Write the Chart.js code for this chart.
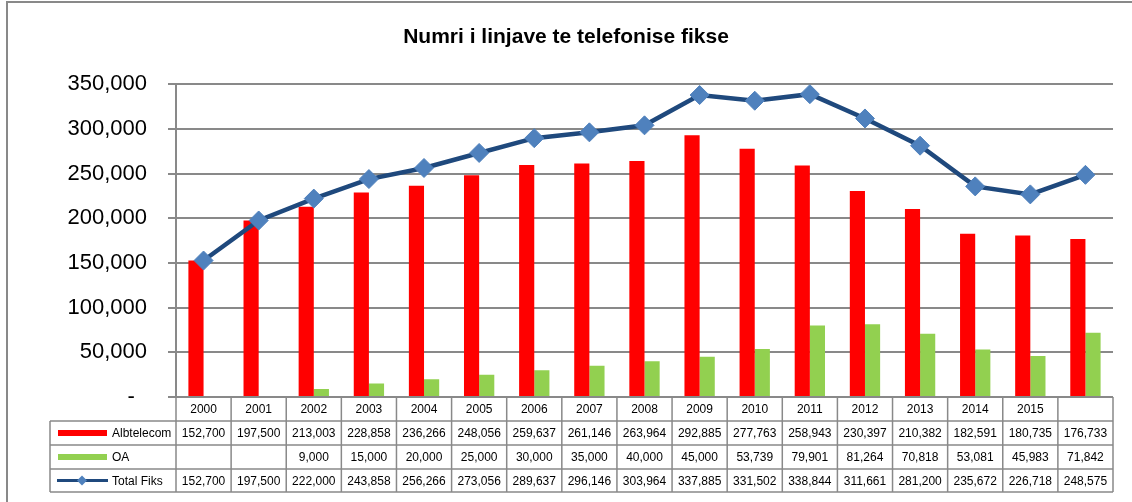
<!DOCTYPE html>
<html>
<head>
<meta charset="utf-8">
<script src="https://cdn.jsdelivr.net/npm/chart.js@4"></script>
<style>
  html, body { margin: 0; padding: 0; background: #fff; }
  #wrap { width: 1132px; height: 502px; position: relative; }
</style>
</head>
<body>
<div id="wrap"><canvas id="myChart"></canvas></div>
<script>
// - Anet

const vitet = ['2000', '2001', '2002', '2003', '2004', '2005', '2006', '2007',
  '2008', '2009', '2010', '2011', '2012', '2013', '2014', '2015', '']

const albtelecom = [152700, 197500, 213003, 228858, 236266, 248056, 259637, 261146,
  263964, 292885, 277763, 258943, 230397, 210382, 182591, 180735, 176733]

const oa = [null, null, 9000, 15000, 20000, 25000, 30000, 35000,
  40000, 45000, 53739, 79901, 81264, 70818, 53081, 45983, 71842]

const totalFiks = [152700, 197500, 222000, 243858, 256266, 273056, 289637, 296146,
  303964, 337885, 331502, 338844, 311661, 281200, 235672, 226718, 248575]

const yTicks = [0, 50000, 100000, 150000, 200000, 250000, 300000, 350000]

const fmt = v => (v === null || v === undefined) ? '' : v.toLocaleString('en-US')

const GRI = '#898989'
const FONT = "'Liberation Sans', Arial, sans-serif"

// korniza e jashtme
const korniza = {
  id: 'korniza',
  beforeDraw(chart) {
    const ctx = chart.ctx
    ctx.save()
    ctx.fillStyle = '#fff'
    ctx.fillRect(0, 0, chart.width, chart.height)
    ctx.strokeStyle = GRI
    ctx.lineWidth = 2
    ctx.beginPath()
    ctx.moveTo(7, chart.height)
    ctx.lineTo(7, 2)
    ctx.lineTo(chart.width, 2)
    ctx.stroke()
    ctx.restore()
  }
}

// tabela e te dhenave poshte grafikut
const tabela = {
  id: 'tabela',
  afterDraw(chart) {
    const ctx = chart.ctx
    const area = chart.chartArea
    const n = vitet.length
    const w = (area.right - area.left) / n
    const top = area.bottom
    const rows = [top, top + 24, top + 48, top + 72, top + 95]
    const legX = 50

    ctx.save()
    ctx.strokeStyle = GRI
    ctx.lineWidth = 1.5
    ctx.beginPath()
    ctx.moveTo(area.left, rows[0]); ctx.lineTo(area.right, rows[0])
    for (let r = 1; r < rows.length; r++) {
      ctx.moveTo(legX, rows[r]); ctx.lineTo(area.right, rows[r])
    }
    for (let i = 0; i <= n; i++) {
      const x = area.left + i * w
      ctx.moveTo(x, rows[0]); ctx.lineTo(x, rows[4])
    }
    ctx.moveTo(legX, rows[1]); ctx.lineTo(legX, rows[4])
    ctx.stroke()

    ctx.fillStyle = '#000'
    ctx.font = '12px ' + FONT
    ctx.textAlign = 'center'
    ctx.textBaseline = 'middle'
    const series = [vitet, albtelecom, oa, totalFiks]
    series.forEach((arr, r) => {
      const cy = (rows[r] + rows[r + 1]) / 2 + 1
      arr.forEach((v, i) => {
        const txt = r === 0 ? v : fmt(v)
        ctx.fillText(txt, area.left + i * w + w / 2, cy)
      })
    })

    // legjenda
    const names = chart.data.datasets.map(d => d.label)
    ctx.textAlign = 'left'
    for (let r = 1; r <= 3; r++) {
      const cy = (rows[r] + rows[r + 1]) / 2
      const ds = chart.data.datasets[r - 1]
      if (ds.type === 'line') {
        ctx.strokeStyle = ds.borderColor
        ctx.lineWidth = 3
        ctx.beginPath(); ctx.moveTo(57, cy); ctx.lineTo(108, cy); ctx.stroke()
        ctx.fillStyle = ds.pointBackgroundColor
        ctx.beginPath()
        ctx.moveTo(82, cy - 5); ctx.lineTo(87, cy); ctx.lineTo(82, cy + 5); ctx.lineTo(77, cy)
        ctx.closePath(); ctx.fill()
      } else {
        ctx.fillStyle = ds.backgroundColor
        ctx.fillRect(58, cy - 3, 49, 6)
      }
      ctx.fillStyle = '#000'
      ctx.fillText(names[r - 1], 112, cy + 1)
    }
    ctx.restore()
  }
}

const data = {
  labels: vitet,
  datasets: [{
    type: 'bar',
    label: 'Albtelecom',
    backgroundColor: '#FF0000',
    borderColor: '#FF0000',
    data: albtelecom,
    order: 2
  },
  {
    type: 'bar',
    label: 'OA',
    backgroundColor: '#92D050',
    borderColor: '#92D050',
    data: oa,
    order: 2
  },
  {
    type: 'line',
    label: 'Total Fiks',
    borderColor: '#1F497D',
    backgroundColor: '#4F81BD',
    borderWidth: 4.5,
    pointStyle: 'rectRot',
    pointRadius: 9.5,
    pointBorderWidth: 1,
    pointBackgroundColor: '#4F81BD',
    pointBorderColor: '#4F81BD',
    tension: 0,
    data: totalFiks,
    order: 0
  }]
}

const config = {
  data: data,
  options: {
    responsive: true,
    maintainAspectRatio: false,
    animation: false,
    layout: {
      padding: { left: 0, right: 0, top: 0, bottom: 105 }
    },
    datasets: {
      bar: { categoryPercentage: 0.55, barPercentage: 1 }
    },
    scales: {
      x: {
        display: false
      },
      y: {
        min: 0,
        max: 350000,
        afterFit(scale) { scale.width = 176 },
        afterBuildTicks(scale) { scale.ticks = yTicks.map(v => ({ value: v })) },
        border: { color: GRI, width: 2 },
        grid: { color: GRI, lineWidth: 2, tickLength: 8 },
        ticks: {
          padding: 21,
          color: '#000',
          font: { family: FONT, size: 22 },
          callback: v => v === 0 ? '-  ' : fmt(v)
        }
      },
      // bosh, vetem per hapesiren djathtas
      bosh: {
        position: 'right',
        afterFit(scale) { scale.width = 19 },
        grid: { display: false },
        border: { display: false },
        ticks: { display: false }
      }
    },
    plugins: {
      legend: { display: false },
      tooltip: { enabled: false },
      title: {
        display: true,
        text: 'Numri i linjave te telefonise fikse',
        color: '#000',
        font: { family: FONT, size: 21, weight: 'bold' },
        padding: { top: 25, bottom: 34 }
      }
    }
  },
  plugins: [korniza, tabela]
}

const myChart = new Chart(
  document.getElementById('myChart'),
  config
)
</script>
</body>
</html>
